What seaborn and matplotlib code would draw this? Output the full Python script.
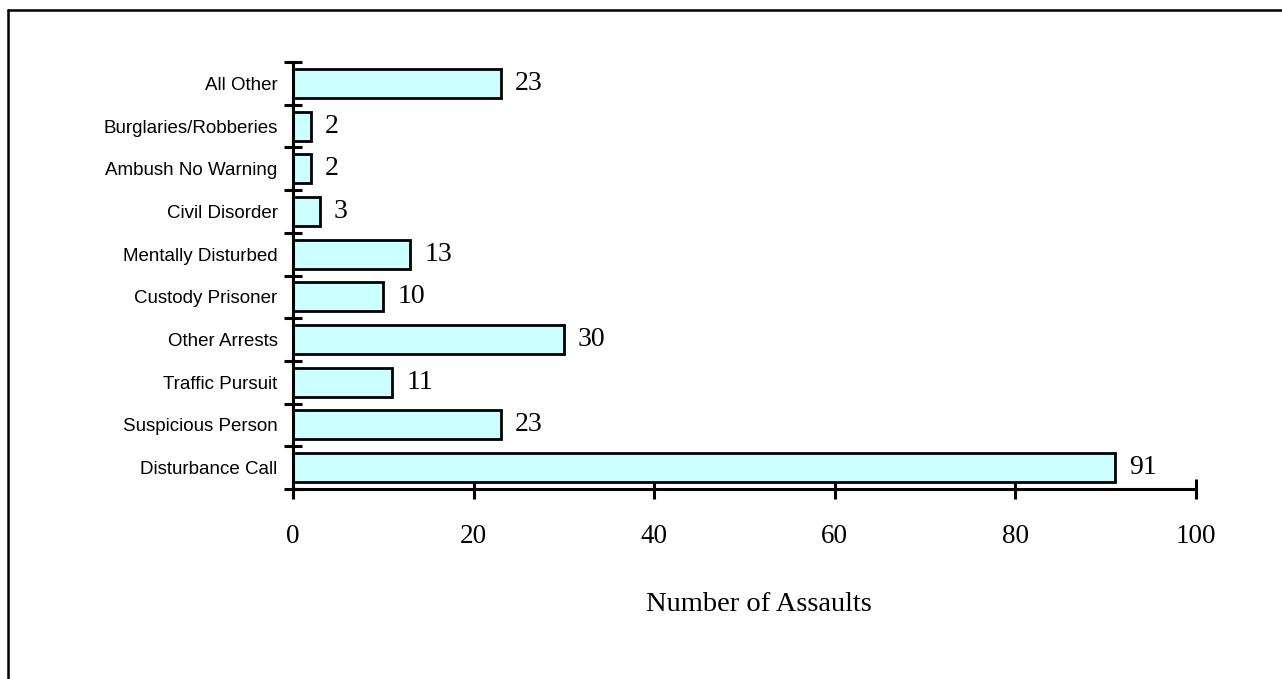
import numpy as np
import pandas as pd
import matplotlib
matplotlib.use("Agg")
import matplotlib.pyplot as plt
import seaborn as sns
from matplotlib.ticker import FixedLocator

# ==========================================================
# DATA
# ==========================================================

categories = [
    "All Other",
    "Burglaries/Robberies",
    "Ambush No Warning",
    "Civil Disorder",
    "Mentally Disturbed",
    "Custody Prisoner",
    "Other Arrests",
    "Traffic Pursuit",
    "Suspicious Person",
    "Disturbance Call",
]

assaults = [23, 2, 2, 3, 13, 10, 30, 11, 23, 91]

x_ticks = [0, 20, 40, 60, 80, 100]

df = pd.DataFrame({"category": categories, "assaults": assaults})

# ==========================================================
# STYLE
# ==========================================================

sns.set_style("white", rc={
    "text.color": "black",
    "axes.labelcolor": "black",
    "xtick.color": "black",
    "ytick.color": "black",
    "axes.edgecolor": "black",
})

BAR_COLOR = "#CCFFFF"
SERIF = ["Liberation Serif", "DejaVu Serif"]
SANS = ["Liberation Sans", "DejaVu Sans"]

fig = plt.figure(figsize=(12.82, 6.79), dpi=100)
ax = fig.add_axes([0.2285, 0.2798, 0.7045, 0.6289])

sns.barplot(
    data=df,
    x="assaults",
    y="category",
    order=categories,
    orient="h",
    color=BAR_COLOR,
    saturation=1,
    edgecolor="black",
    linewidth=2.0,
    width=0.68,
    ax=ax
)

# value labels
for container in ax.containers:
    ax.bar_label(
        container,
        labels=[str(v) for v in assaults],
        padding=10,
        fontsize=20,
        family=SERIF,
        color="black"
    )

# ==========================================================
# AXES
# ==========================================================

ax.set_xlim(0, 100)
ax.set_ylim(len(categories) - 0.5, -0.5)

ax.set_xticks(x_ticks)
ax.set_xticklabels([str(t) for t in x_ticks], family=SERIF, fontsize=19.5)

ax.set_yticks(range(len(categories)))
ax.set_yticklabels(categories, family=SANS, fontsize=13.5)
ax.yaxis.set_minor_locator(FixedLocator(np.arange(-0.5, len(categories), 1.0)))

ax.tick_params(axis="y", which="major", length=0, pad=11)
ax.tick_params(axis="y", which="minor", direction="inout", length=13,
               width=2.2, color="black", left=True)
ax.tick_params(axis="x", which="major", direction="inout", length=15,
               width=2.2, color="black", bottom=True, pad=18)

for side in ["top", "right"]:
    ax.spines[side].set_visible(False)
for side in ["left", "bottom"]:
    ax.spines[side].set_linewidth(2.2)
    ax.spines[side].set_color("black")

ax.set_ylabel("")
ax.set_xlabel("Number of Assaults", family=SERIF, fontsize=20.5, color="black")
ax.xaxis.set_label_coords(0.516, -0.27, transform=ax.transAxes)
ax.xaxis.label.set_va("center")

# ==========================================================
# FRAME AROUND CHART
# ==========================================================

fig.add_artist(plt.Line2D([8 / 1282, 1.0], [1 - 10 / 679, 1 - 10 / 679],
                          transform=fig.transFigure, color="black", linewidth=1.8))
fig.add_artist(plt.Line2D([8 / 1282, 8 / 1282], [0.0, 1 - 10 / 679],
                          transform=fig.transFigure, color="black", linewidth=1.8))

fig.savefig("out.png", dpi=100)
plt.close(fig)
